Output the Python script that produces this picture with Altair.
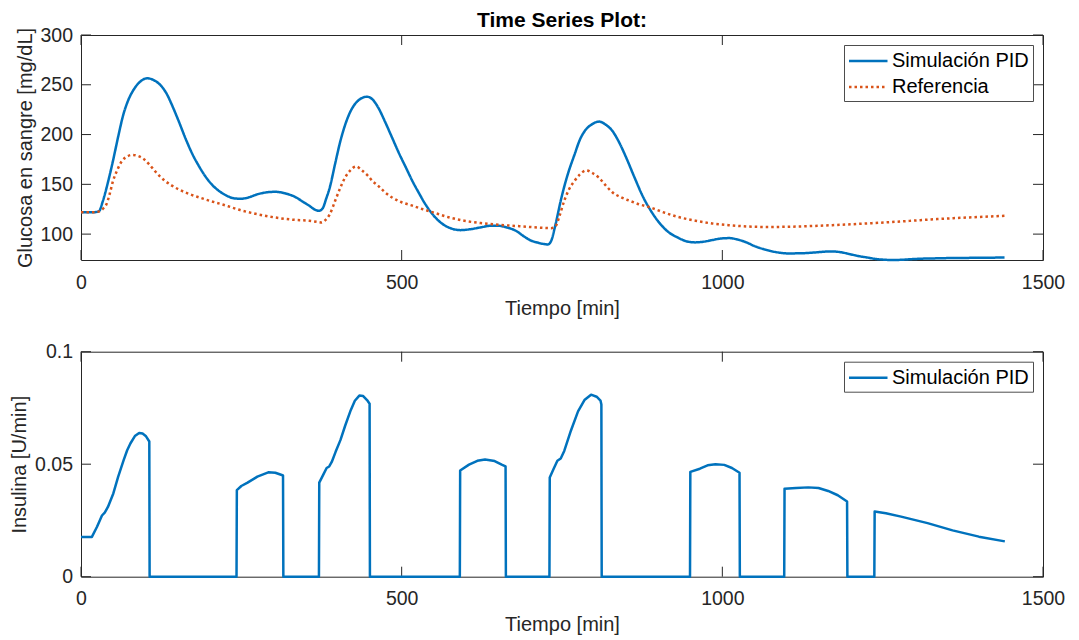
import altair as alt
import pandas as pd

# ---------------- data ----------------
glu_pid_t = [0, 20, 28, 34, 42, 50, 58, 66, 74, 82, 92, 103, 114, 125.5, 134, 141.6, 152, 163, 174,
             184.6, 195, 206, 217, 227.5, 238, 249, 262, 275, 290, 302.6, 318, 335, 346, 356, 365, 371,
             377, 382, 388, 396, 404.5, 412, 420.6, 432, 446, 455, 463.5, 474, 485, 496, 506.5, 517,
             528, 536, 544, 555, 565.5, 578, 592, 608, 625, 640, 651, 665, 678, 690, 700, 712, 722,
             728, 733, 740, 748, 758, 769.6, 778, 785.6, 796, 808, 818, 828.5, 840, 850, 863, 876.7, 890,
             903.5, 916, 930, 943, 957, 970, 984, 997, 1010.7, 1024, 1037.5, 1050, 1064, 1083, 1102,
             1125, 1144.7, 1160, 1171.5, 1185, 1198, 1212, 1225, 1240, 1252, 1265, 1278.7, 1292,
             1305.5, 1330, 1359, 1400, 1440]
glu_pid_v = [122, 122, 123, 133, 152, 174, 198, 220, 235, 245, 253, 256.5, 254.5, 248.5, 240.5, 230, 214,
             196, 180, 167.5, 157, 148.5, 142.5, 138.5, 136, 135.5, 137, 140, 142, 142.5, 141, 137,
             132.5, 128.5, 124.5, 123.4, 126, 135, 147, 170, 193.6, 210, 223.8, 234, 238, 235, 227,
             213, 197, 181, 167, 153, 140, 131, 123.4, 115, 109.4, 105.5, 104, 105, 107, 108.5, 108.4,
             106.5, 103.4, 98, 94, 91.5, 90, 89.6, 93, 110, 133.5, 158, 180, 195, 203.7, 210, 213, 210,
             203.7, 191, 177, 157, 137, 122, 110, 102, 96.7, 93, 91.7, 92.3, 94, 95.5, 96, 94.5, 91.7,
             88, 85, 82, 80.6, 80.8, 81.6, 82.4, 82.6, 81.8, 80, 78, 76.6, 75, 74.3, 74, 74.2, 74.7,
             75.2, 75.6, 76, 76.2, 76.5]

glu_ref_t = [0, 22, 29, 35, 39.7, 45, 50, 57, 64, 72, 80, 89, 98.7, 107, 115, 123, 131, 141, 152,
             168, 184.6, 203, 222, 235, 249, 275, 302.6, 330, 356, 368, 375, 381, 388, 396, 404.5,
             412, 420, 428.7, 438, 447.5, 455, 463.5, 474, 485, 500, 517, 533, 549, 573, 597.7, 625,
             651, 683, 716, 733, 740, 746, 753.5, 761, 769.6, 778, 788.3, 797, 807, 818, 828.5, 842,
             855.3, 870, 887.5, 910, 930, 958, 984, 1010, 1037.5, 1070, 1102, 1135, 1171.5, 1210,
             1252, 1292, 1332, 1385, 1440]
glu_ref_v = [122, 122, 123, 126, 130, 141, 153.5, 165, 173.6, 178, 179.6, 178.5, 175, 169.5, 163.6,
             158, 153.5, 149, 145, 140.5, 136.8, 133, 129.5, 126.8, 124, 120, 116.7, 114.5, 113.4,
             112.3, 111.7, 114, 120, 133, 146.8, 157, 164, 168, 164, 158.6, 153, 148.5, 142, 136.8,
             132, 128.5, 125, 121.8, 117, 113.4, 111, 109.4, 108, 106.5, 106, 108, 118, 133.5, 145,
             153.5, 160, 164, 161.5, 157, 149, 142, 137, 133.5, 130, 126.8, 121.5, 117.4, 113.5,
             110.7, 109, 107.7, 107.2, 107.4, 108, 109, 110.2, 111.7, 113.3, 115, 116.8, 118.4]

ins_t = [0, 17, 25, 32.7, 37, 42, 50.4, 58, 66.5, 72, 77, 84, 90.7, 96, 101.4, 106.5, 107,
         242.5, 243, 250, 259.7, 275, 292, 303, 313, 315, 315.5,
         371, 371.5, 378, 383, 387, 391, 397, 404.5, 412, 420.6, 427, 434, 440, 446, 450, 450.5,
         590.7, 591.2, 605, 618, 630, 645, 656, 662, 662.5,
         730.4, 730.9, 737, 742.8, 748, 753.5, 764, 775, 785, 795.3, 804, 810, 811.4, 811.9,
         949.6, 950.1, 965, 977, 989.3, 1003, 1015, 1026.8, 1027.3,
         1096.5, 1097, 1115, 1134, 1150, 1165, 1180, 1194.5, 1195,
         1237, 1237.5, 1255, 1278.7, 1320, 1359, 1400, 1440.5]
ins_v = [0.0177, 0.0177, 0.0222, 0.0272, 0.0285, 0.031, 0.037, 0.0445, 0.0518, 0.0562, 0.0592,
         0.0625, 0.0639, 0.0636, 0.0624, 0.0601, 0,
         0, 0.0385, 0.0403, 0.0418, 0.0445, 0.0464, 0.0462, 0.0452, 0.045, 0,
         0, 0.0418, 0.0455, 0.0483, 0.049, 0.051, 0.0555, 0.0607, 0.0672, 0.074, 0.0782, 0.0805,
         0.0803, 0.0785, 0.0769, 0,
         0, 0.0472, 0.0498, 0.0515, 0.0521, 0.0514, 0.0498, 0.049, 0,
         0, 0.0441, 0.048, 0.0515, 0.0525, 0.0559, 0.065, 0.0735, 0.0785, 0.0809, 0.08, 0.0783,
         0.0765, 0,
         0, 0.0466, 0.048, 0.0495, 0.05, 0.0497, 0.0483, 0.0462, 0,
         0, 0.0391, 0.0394, 0.0397, 0.0394, 0.0381, 0.0362, 0.0334, 0,
         0, 0.029, 0.0282, 0.0267, 0.0238, 0.0206, 0.0178, 0.0157]

series_names = ["Simulación PID", "Referencia"]
x_ticks = [0, 500, 1000, 1500]
glu_ticks = [100, 150, 200, 250, 300]
ins_ticks = [0, 0.05, 0.1]

# ---------------- styling ----------------
W, H = 962, 225
FONT = "Liberation Sans"
TXT = "#262626"
BLUE = "#0072BD"
ORANGE = "#D95319"
TICK = 10
LBL = 19.5
TTL = 20

df_glu = pd.concat([
    pd.DataFrame({"t": glu_pid_t, "v": glu_pid_v, "serie": series_names[0]}),
    pd.DataFrame({"t": glu_ref_t, "v": glu_ref_v, "serie": series_names[1]}),
])
df_ins = pd.DataFrame({"t": ins_t, "v": ins_v, "serie": series_names[0]})
df_xt = pd.DataFrame({"t": x_ticks})
df_gt = pd.DataFrame({"v": glu_ticks})
df_it = pd.DataFrame({"v": ins_ticks})


def x_enc():
    return alt.X("t:Q", scale=alt.Scale(domain=[0, 1500], nice=False, zero=False),
                 axis=alt.Axis(values=x_ticks, format="d", title="Tiempo [min]", grid=False,
                               domain=False, ticks=False, labelFlush=False, labelOverlap=False,
                               labelFont=FONT, labelFontSize=LBL, labelColor=TXT,
                               labelBaseline="top", labelPadding=13,
                               titleFont=FONT, titleFontSize=TTL, titleFontWeight="normal",
                               titleColor=TXT, titleBaseline="alphabetic", titleY=54))


def y_enc(domain, values, title, title_x, label_expr=None):
    ax = dict(values=values, title=title, grid=False, domain=False, ticks=False,
              labelOverlap=False, labelFlush=False,
              labelFont=FONT, labelFontSize=LBL, labelColor=TXT, labelBaseline="middle",
              labelPadding=8.5,
              titleFont=FONT, titleFontSize=TTL, titleFontWeight="normal", titleColor=TXT,
              titleBaseline="middle", titleX=title_x, titleAngle=-90)
    if label_expr:
        ax["labelExpr"] = label_expr
    return alt.Y("v:Q", scale=alt.Scale(domain=domain, nice=False, zero=False), axis=alt.Axis(**ax))


def legend():
    return alt.Legend(title=None, orient="top-right", offset=10, strokeColor="#4d4d4d",
                      fillColor="white", padding=3.5, rowPadding=3, labelFont=FONT,
                      labelFontSize=20, labelColor="#000000",
                      symbolType="M-1,0H2.5", symbolSize=484, symbolStrokeWidth=2.5,
                      labelOffset=19.5, cornerRadius=0)


def inner_ticks(ydom, ytick_df, yvals_title, title_x, label_expr=None):
    ye = y_enc(ydom, yvals_title[0], yvals_title[1], title_x, label_expr)
    xb = alt.Chart(df_xt).mark_rule(color=TXT, strokeWidth=1).encode(
        x=x_enc(), y=alt.value(H), y2=alt.value(H - TICK))
    xtp = alt.Chart(df_xt).mark_rule(color=TXT, strokeWidth=1).encode(
        x=x_enc(), y=alt.value(0), y2=alt.value(TICK))
    yl = alt.Chart(ytick_df).mark_rule(color=TXT, strokeWidth=1).encode(
        y=ye, x=alt.value(0), x2=alt.value(TICK))
    yr = alt.Chart(ytick_df).mark_rule(color=TXT, strokeWidth=1).encode(
        y=ye, x=alt.value(W), x2=alt.value(W - TICK))
    return [xb, xtp, yl, yr]


# ---------------- top panel ----------------
glu_y = ([74, 300], glu_ticks, "Glucosa en sangre [mg/dL]", -56)
top_lines = alt.Chart(df_glu).mark_line(strokeWidth=2.5, interpolate="monotone", strokeCap="butt").encode(
    x=x_enc(),
    y=y_enc(glu_y[0], glu_y[1], glu_y[2], glu_y[3]),
    color=alt.Color("serie:N", scale=alt.Scale(domain=series_names, range=[BLUE, ORANGE]),
                    legend=legend()),
    strokeDash=alt.StrokeDash("serie:N", scale=alt.Scale(domain=series_names,
                                                         range=[[1, 0], [2.5, 3]]),
                              legend=legend()),
)
top = alt.layer(
    *inner_ticks(glu_y[0], df_gt, (glu_y[1], glu_y[2]), glu_y[3]),
    top_lines,
).properties(
    width=W, height=H,
    title=alt.Title("Time Series Plot:", font=FONT, fontSize=21, fontWeight="bold",
                    color="#000000", anchor="middle", frame="group", baseline="alphabetic",
                    offset=-22.5),
)

# ---------------- bottom panel ----------------
ins_y = ([0, 0.1], ins_ticks, "Insulina [U/min]", -61.5)
lexpr = "'' + datum.value"
bot_line = alt.Chart(df_ins).mark_line(strokeWidth=2.5, strokeCap="butt", strokeJoin="round").encode(
    x=x_enc(),
    y=y_enc(ins_y[0], ins_y[1], ins_y[2], ins_y[3], lexpr),
    color=alt.Color("serie:N", scale=alt.Scale(domain=[series_names[0]], range=[BLUE]),
                    legend=legend()),
)
bottom = alt.layer(
    *inner_ticks(ins_y[0], df_it, (ins_y[1], ins_y[2]), ins_y[3], lexpr),
    bot_line,
).properties(width=W, height=H)

chart = alt.vconcat(top, bottom, spacing=91.7, bounds="flush").resolve_scale(
    x="independent", y="independent", color="independent", strokeDash="independent"
).properties(
    padding={"left": 8, "top": 9, "right": 5, "bottom": 5},
    background="white",
).configure_view(
    stroke=TXT, strokeWidth=1, fill="white"
)

chart.save("out.html", embed_options={"renderer": "svg", "actions": False})
